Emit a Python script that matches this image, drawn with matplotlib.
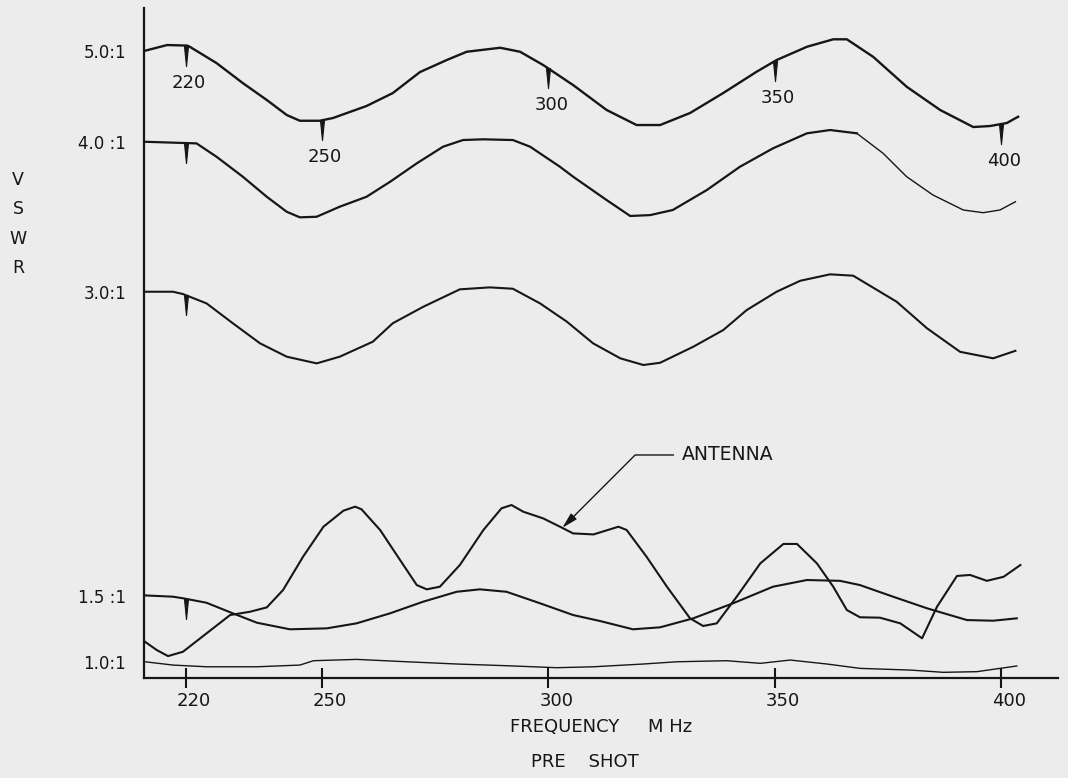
import numpy as np
import matplotlib
matplotlib.use("Agg")
import matplotlib.pyplot as plt
from matplotlib.path import Path
from matplotlib.ticker import FixedLocator, NullLocator
from matplotlib.transforms import ScaledTranslation

FIGSIZE = (10.68, 7.78)
DPI = 100
PAPER = "#ececec"
INK = "#161616"

# hand drawn VSWR scale of the chart (not linear): value -> spacing
VS_KNOTS = [0.5, 1.0, 1.5, 3.0, 4.0, 5.0, 6.0]
POS_KNOTS = [-66, 0, 66, 370, 520, 611, 702]

YTICKS = [1.0, 1.5, 3.0, 4.0, 5.0]
YTICK_LABELS = ["1.0:1", "1.5 :1", "3.0:1", "4.0 :1", "5.0:1"]
XTICKS = [220, 250, 300, 350, 400]

# trace calibrated at 5.0:1 (frequency markers on it)
f_50 = [211.0, 215.9, 220.3, 220.9, 226.8, 232.6, 237.9, 242.3, 245.2, 249.6, 252.5,
        259.9, 265.7, 271.7, 277.6, 282.0, 289.4, 293.8, 298.9, 305.5, 312.9, 319.5,
        324.7, 331.3, 338.6, 346.0, 350.4, 357.1, 362.9, 365.9, 371.7, 379.1, 386.5,
        393.8, 397.5, 401.2, 403.7]
v_50 = [5.003, 5.066, 5.060, 5.047, 4.868, 4.648, 4.462, 4.297, 4.234, 4.234, 4.264,
        4.396, 4.538, 4.769, 4.901, 4.992, 5.036, 4.992, 4.846, 4.626, 4.352, 4.187,
        4.187, 4.319, 4.538, 4.773, 4.901, 5.047, 5.129, 5.129, 4.937, 4.608, 4.352,
        4.165, 4.176, 4.209, 4.278]

# trace calibrated at 4.0:1
f_40 = [211.0, 222.4, 226.8, 232.6, 237.9, 242.3, 245.2, 248.9, 254.0, 259.9, 265.1,
        271.0, 276.8, 281.2, 285.6, 292.2, 296.0, 302.6, 305.5, 312.9, 318.1, 322.5,
        327.5, 335.0, 342.3, 349.6, 357.1, 362.2, 368.1, 373.9, 379.1, 384.9, 391.6,
        396.0, 399.7, 403.1]
v_40 = [4.003, 3.991, 3.902, 3.769, 3.635, 3.535, 3.498, 3.502, 3.569, 3.635, 3.735,
        3.858, 3.969, 4.022, 4.030, 4.022, 3.969, 3.835, 3.769, 3.613, 3.507, 3.513,
        3.547, 3.680, 3.835, 3.958, 4.096, 4.132, 4.096, 3.925, 3.769, 3.647, 3.547,
        3.529, 3.547, 3.602]

# trace calibrated at 3.0:1
f_30 = [211.0, 217.2, 219.4, 224.6, 230.4, 236.4, 242.3, 248.9, 254.0, 261.3, 265.7,
        272.4, 280.5, 287.1, 292.2, 298.2, 304.1, 309.9, 315.9, 321.0, 324.7, 332.0,
        338.6, 343.8, 350.4, 355.6, 362.2, 367.3, 376.9, 383.6, 390.9, 398.2, 403.1]
v_30 = [3.002, 3.002, 2.990, 2.944, 2.846, 2.747, 2.681, 2.648, 2.681, 2.755, 2.846,
        2.927, 3.018, 3.031, 3.022, 2.944, 2.854, 2.747, 2.673, 2.640, 2.651, 2.730,
        2.812, 2.911, 3.002, 3.075, 3.118, 3.109, 2.952, 2.821, 2.705, 2.673, 2.710]

# trace calibrated at 1.5:1
f_15 = [211.0, 217.2, 219.4, 224.6, 230.4, 235.7, 243.0, 251.1, 257.7, 265.1, 272.4,
        279.8, 284.9, 290.8, 298.2, 305.5, 311.4, 318.7, 324.7, 332.0, 340.8, 349.6,
        357.1, 364.4, 368.8, 376.1, 383.6, 392.4, 398.2, 403.4]
v_15 = [1.503, 1.495, 1.483, 1.449, 1.369, 1.298, 1.248, 1.255, 1.293, 1.369, 1.457,
        1.521, 1.533, 1.521, 1.445, 1.356, 1.311, 1.248, 1.263, 1.331, 1.445, 1.546,
        1.579, 1.575, 1.554, 1.495, 1.407, 1.318, 1.313, 1.331]

# antenna
f_ant = [211.0, 213.6, 216.1, 219.4, 224.6, 229.8, 234.2, 237.9, 241.5, 245.9, 250.4,
         254.8, 257.4, 258.8, 262.9, 267.3, 271.0, 273.2, 276.1, 280.5, 285.7, 289.7,
         291.9, 294.5, 298.9, 302.6, 305.5, 310.0, 315.5, 317.3, 321.7, 326.2, 331.3,
         334.2, 337.2, 341.6, 346.8, 351.9, 354.9, 359.3, 362.9, 365.9, 368.8, 373.2,
         377.7, 382.5, 385.8, 390.2, 393.1, 396.8, 400.5, 404.2]
v_ant = [1.154, 1.091, 1.045, 1.078, 1.217, 1.356, 1.381, 1.414, 1.530, 1.694, 1.842,
         1.921, 1.941, 1.928, 1.826, 1.678, 1.554, 1.533, 1.546, 1.653, 1.826, 1.933,
         1.949, 1.916, 1.883, 1.842, 1.809, 1.804, 1.842, 1.826, 1.694, 1.546, 1.331,
         1.273, 1.293, 1.495, 1.661, 1.757, 1.757, 1.661, 1.546, 1.394, 1.339, 1.336,
         1.293, 1.180, 1.419, 1.599, 1.604, 1.575, 1.595, 1.653]

# trace calibrated at 1.0:1
f_10 = [211.0, 217.2, 224.6, 235.7, 245.2, 248.2, 257.7, 268.8, 279.8, 290.8, 301.9,
        310.0, 321.0, 328.4, 339.4, 346.8, 353.4, 361.5, 368.8, 379.9, 387.2, 394.6,
        403.4]
v_10 = [1.002, 0.977, 0.964, 0.964, 0.977, 1.010, 1.020, 1.002, 0.985, 0.972, 0.957,
        0.964, 0.985, 1.002, 1.010, 0.990, 1.015, 0.985, 0.952, 0.939, 0.922, 0.927,
        0.970]

MARKERS_TOP = [220, 250, 300, 350, 400]
MARKER_220 = [220]


def vswr_to_pos(v):
    return np.interp(v, VS_KNOTS, POS_KNOTS)


def pos_to_vswr(p):
    return np.interp(p, POS_KNOTS, VS_KNOTS)


# narrow V shaped spike used for the frequency marks on the traces
SPIKE = Path([(-0.1, 0.0), (0.1, 0.0), (0.0, -1.0), (-0.1, 0.0)],
             [Path.MOVETO, Path.LINETO, Path.LINETO, Path.CLOSEPOLY])

plt.rcParams["font.family"] = ["DejaVu Sans"]
fig = plt.figure(figsize=FIGSIZE, dpi=DPI, facecolor=PAPER)
ax = fig.add_axes([144 / 1068, 100 / 778, 914 / 1068, 670 / 778])
ax.set_facecolor(PAPER)
ax.set_yscale("function", functions=(vswr_to_pos, pos_to_vswr))

ax.plot(f_50, v_50, color=INK, lw=1.7, solid_joinstyle="round")
ax.plot(f_40[:29], v_40[:29], color=INK, lw=1.6, solid_joinstyle="round")
ax.plot(f_40[28:], v_40[28:], color=INK, lw=1.0, solid_joinstyle="round")
ax.plot(f_30, v_30, color=INK, lw=1.5, solid_joinstyle="round")
ax.plot(f_15, v_15, color=INK, lw=1.5, solid_joinstyle="round")
ax.plot(f_ant, v_ant, color=INK, lw=1.5, solid_joinstyle="round")
ax.plot(f_10, v_10, color=INK, lw=1.0, solid_joinstyle="round")

# frequency marks
top_mark_v = np.interp(MARKERS_TOP, f_50, v_50)
ax.plot(MARKERS_TOP, top_mark_v, ls="none", marker=SPIKE, ms=29, color=INK, mew=0.8)
for f_t, v_t in [(f_40, v_40), (f_30, v_30), (f_15, v_15)]:
    ax.plot(MARKER_220, np.interp(MARKER_220, f_t, v_t), ls="none", marker=SPIKE,
            ms=29, color=INK, mew=0.8)

for f, v in zip(MARKERS_TOP, top_mark_v):
    ax.annotate(str(f), xy=(f, v), xytext=(3, -37), textcoords="offset pixels",
                ha="center", va="center", fontsize=13, color=INK)

# antenna callout
ant_f = 303.1
ant_v = np.interp(ant_f, f_ant, v_ant)
ax.annotate("ANTENNA", xy=(ant_f, ant_v), xytext=(329.5, 2.196), textcoords="data",
            ha="left", va="center", fontsize=13.5, color=INK,
            arrowprops=dict(arrowstyle="-|>,head_length=0.7,head_width=0.18",
                            connectionstyle="angle,angleA=0,angleB=45,rad=0",
                            relpos=(0, 0.5), shrinkA=4, shrinkB=0,
                            color=INK, lw=1.0))

ax.set_xlim(210.8, 412.5)
ax.set_ylim(0.879, 5.473)
ax.xaxis.set_major_locator(FixedLocator(XTICKS))
ax.xaxis.set_minor_locator(NullLocator())
ax.yaxis.set_major_locator(FixedLocator(YTICKS))
ax.yaxis.set_minor_locator(NullLocator())
ax.set_yticklabels(YTICK_LABELS)
ax.tick_params(axis="x", direction="inout", length=14, width=1.5, colors=INK,
               labelsize=13, pad=3)
ax.tick_params(axis="y", length=0, colors=INK, labelsize=12, pad=13)
# the lettered numbers sit a little right of the tick crosses
for lab in ax.get_xticklabels():
    lab.set_transform(lab.get_transform() + ScaledTranslation(0.08, 0, fig.dpi_scale_trans))

for side in ["top", "right"]:
    ax.spines[side].set_visible(False)
for side in ["left", "bottom"]:
    ax.spines[side].set_linewidth(1.6)
    ax.spines[side].set_color(INK)

ax.set_xlabel("FREQUENCY     M Hz", fontsize=13, color=INK, labelpad=6)
ax.text((585 - 144) / 914, -0.125, "PRE    SHOT", transform=ax.transAxes,
        ha="center", va="center", fontsize=13, color=INK)
fig.text(18 / 1068, 1 - 224 / 778, "V\nS\nW\nR", ha="center", va="center",
         fontsize=12.5, color=INK, linespacing=1.8)

fig.savefig("out.png", dpi=DPI, facecolor=PAPER)
plt.close(fig)
